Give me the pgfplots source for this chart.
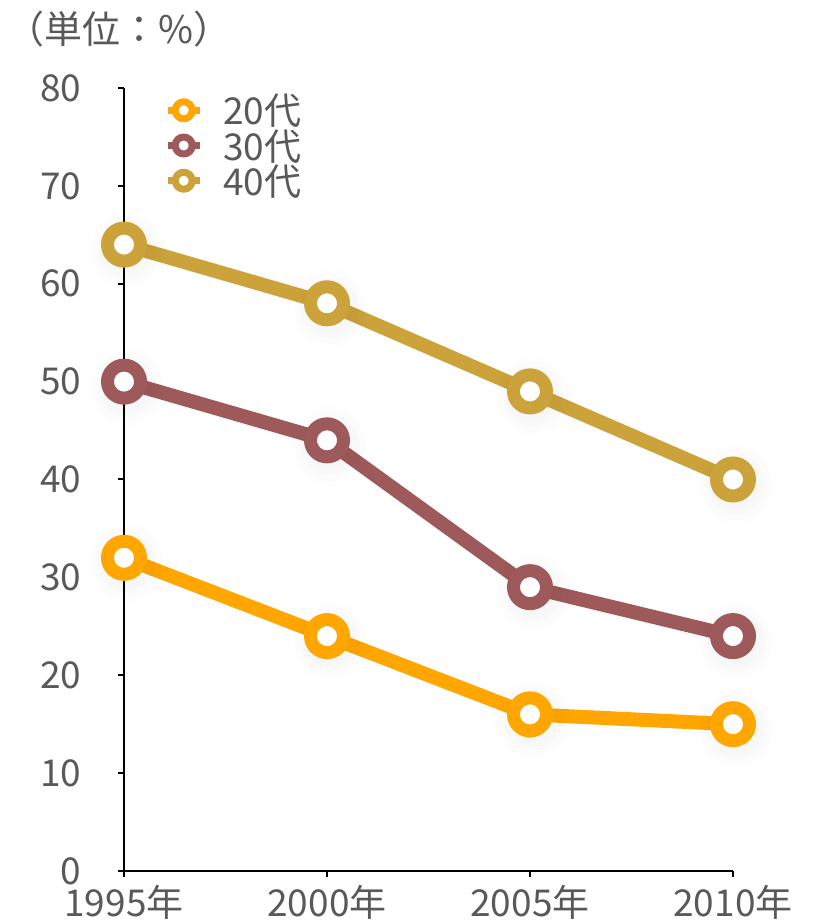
\documentclass[border=0pt]{standalone}
\usepackage{fontspec}
\setmainfont{Noto Sans CJK JP}
\usepackage{pgfplots}
\pgfplotsset{compat=1.18}
\usepackage{pgfplotstable}
\definecolor{c20}{HTML}{FFA600}
\definecolor{c30}{HTML}{9E5A5A}
\definecolor{c40}{HTML}{CCA23A}
\definecolor{txt}{HTML}{595959}

\pgfplotstableread{
x y20 y30 y40
0 32 50 64
1 24 44 58
2 16 29 49
3 15 24 40
}\datatable

\newcommand{\shadowlayer}[1]{%
  \addplot[forget plot, black, line width=14pt+2*#1, mark=*, mark size=23pt+#1, mark options={fill=black, draw=none}] table[x=x, y=y20] {\datatable};
  \addplot[forget plot, black, line width=14pt+2*#1, mark=*, mark size=23pt+#1, mark options={fill=black, draw=none}] table[x=x, y=y30] {\datatable};
  \addplot[forget plot, black, line width=14pt+2*#1, mark=*, mark size=23pt+#1, mark options={fill=black, draw=none}] table[x=x, y=y40] {\datatable};
}

\begin{document}
\begin{tikzpicture}
\path[use as bounding box] (-124pt,-49pt) rectangle (694pt,871pt);
\begin{axis}[
  at={(0pt,0pt)}, anchor=south west,
  scale only axis, width=609pt, height=783pt,
  xmin=0, xmax=3, ymin=0, ymax=80,
  axis x line*=bottom, axis y line*=left,
  xtick={0,1,2,3}, xticklabels={1995年,2000年,2005年,2010年},
  ytick={0,10,...,80},
  tick align=outside, major tick length=6pt,
  axis line style={line width=2pt, black},
  tick style={line width=2pt, black},
  ticklabel style={font=\fontsize{37}{40}\selectfont, text=txt},
  /pgf/number format/assume math mode=true,
  yticklabel style={xshift=-33pt},
  xticklabel style={yshift=-5pt},
  clip=false,
  legend style={at={(axis description cs:0,1)}, anchor=north west, xshift=40pt, yshift=-4pt,
    draw=none, fill=none, font=\fontsize{37}{40}\selectfont, text=txt,
    row sep=-1pt, column sep=18pt, inner sep=0pt, nodes={inner sep=2pt}},
  legend cell align=left,
]
\begin{scope}[xshift=3pt, yshift=-5pt, transparency group, opacity=0.08]
\shadowlayer{0}
\end{scope}
\begin{scope}[xshift=3pt, yshift=-5pt, transparency group, opacity=0.08]
\shadowlayer{3}
\end{scope}
\begin{scope}[xshift=3pt, yshift=-5pt, transparency group, opacity=0.07]
\shadowlayer{6}
\end{scope}
\addplot[c20, line width=14pt, line join=round, mark=*, mark size=16.5pt, mark options={fill=white, line width=13pt},
  legend image code/.code={\draw[c20, line width=7pt] (-16pt,0)--(16pt,0); \draw[c20, line width=7pt, fill=white] (0,0) circle (8.5pt);}] table[x=x, y=y20] {\datatable};
\addlegendentry{20代}
\addplot[c30, line width=14pt, line join=round, mark=*, mark size=16.5pt, mark options={fill=white, line width=13pt},
  legend image code/.code={\draw[c30, line width=7pt] (-16pt,0)--(16pt,0); \draw[c30, line width=7pt, fill=white] (0,0) circle (8.5pt);}] table[x=x, y=y30] {\datatable};
\addlegendentry{30代}
\addplot[c40, line width=14pt, line join=round, mark=*, mark size=16.5pt, mark options={fill=white, line width=13pt},
  legend image code/.code={\draw[c40, line width=7pt] (-16pt,0)--(16pt,0); \draw[c40, line width=7pt, fill=white] (0,0) circle (8.5pt);}] table[x=x, y=y40] {\datatable};
\addlegendentry{40代}
\end{axis}
\node[anchor=base, font=\fontsize{38}{40}\selectfont, text=txt] at (-5pt,827pt) {（単位：\%）};
\end{tikzpicture}
\end{document}
